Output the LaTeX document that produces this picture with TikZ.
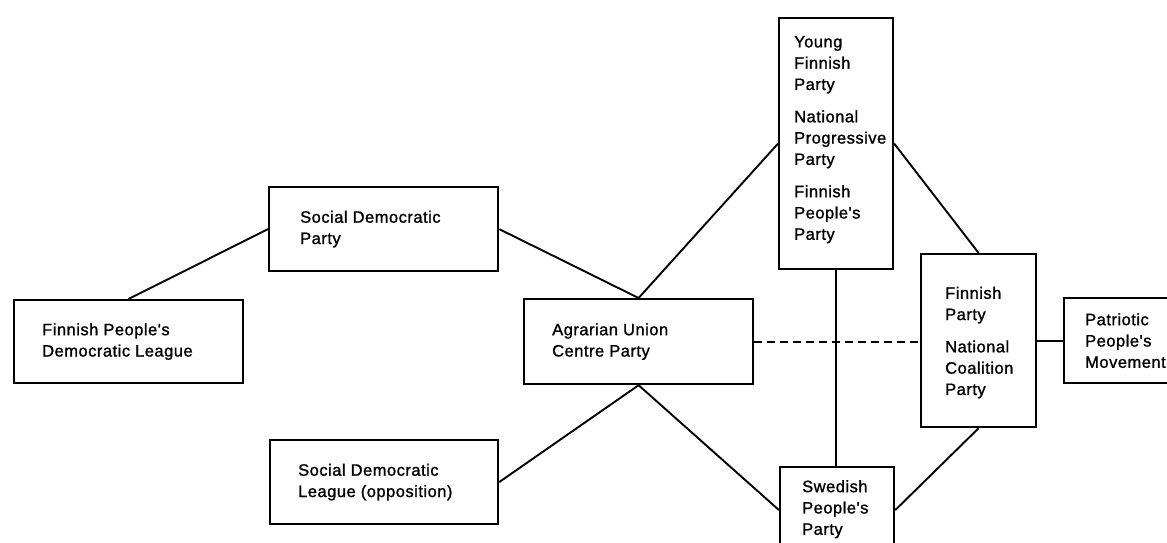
\documentclass[tikz,border=0pt]{standalone}
\usepackage{fontspec}
\newfontfamily\partyfont[LetterSpace=3,FakeBold=1.2]{Liberation Sans}
\usetikzlibrary{calc}

\begin{document}
\begin{tikzpicture}[x=1pt, y=-1pt,
box/.style={draw=black, line width=2.2pt, anchor=north west, inner sep=0pt},
txt/.style={anchor=west, align=left, inner sep=0pt, font=\partyfont\fontsize{16.5}{21.3}\selectfont},
ln/.style={draw=black, line width=1.9pt},
dl/.style={draw=black, line width=1.9pt, dash pattern=on 8pt off 5pt},
]
\useasboundingbox[fill=white] (0,0) rectangle (1167,543);
\node[box, minimum width=229, minimum height=83] (fpdl) at (13,299) {};
\node[box, minimum width=229, minimum height=84] (sdp) at (268,186) {};
\node[box, minimum width=228, minimum height=84] (sdl) at (269,439) {};
\node[box, minimum width=229, minimum height=85] (agr) at (523,298) {};
\node[box, minimum width=114, minimum height=251] (yfp) at (778,17) {};
\node[box, minimum width=114, minimum height=86] (swe) at (779,466) {};
\node[box, minimum width=115, minimum height=173] (fp) at (920,253) {};
\node[box, minimum width=120, minimum height=85] (ppm) at (1063,297) {};
\node[txt] (fpdl-t) at ($(fpdl.west)+(29,0)$) {Finnish People's\\Democratic League};
\node[txt] (sdp-t) at ($(sdp.west)+(32,0)$) {Social Democratic\\Party};
\node[txt] (sdl-t) at ($(sdl.west)+(29,0)$) {Social Democratic\\League (opposition)};
\node[txt] (agr-t) at ($(agr.west)+(29,0)$) {Agrarian Union\\Centre Party};
\node[txt] (yfp-t) at ($(yfp.west)+(16,-4)$) {Young\\Finnish\\Party\\[11pt]National\\Progressive\\Party\\[11pt]Finnish\\People's\\Party};
\node[txt, anchor=north west] (swe-t) at ($(swe.north west)+(23,14)$) {Swedish\\People's\\Party};
\node[txt] (fp-t) at ($(fp.west)+(25,2)$) {Finnish\\Party\\[11pt]National\\Coalition\\Party};
\node[txt] (ppm-t) at ($(ppm.west)+(22,0)$) {Patriotic\\People's\\Movement};
\draw[ln] (fpdl.north) -- (sdp.west);
\draw[ln] (sdp.east) -- (agr.north);
\draw[ln] (yfp.west) -- (agr.north);
\draw[ln] (yfp.east) -- (fp.north);
\draw[ln] (yfp.south) -- (yfp.south |- swe.north);
\draw[ln] (agr.south) -- (sdl.east);
\draw[ln] (agr.south) -- (swe.west);
\draw[ln] (fp.south) -- (swe.east);
\draw[dl] (agr.east) -- (agr.east -| fp.west);
\draw[ln] (fp.east) -- (ppm.west);
\end{tikzpicture}
\end{document}
